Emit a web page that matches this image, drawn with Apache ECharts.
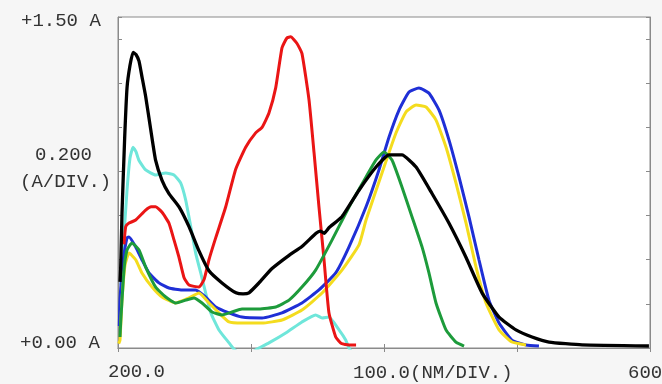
<!DOCTYPE html>
<html><head><meta charset="utf-8">
<script src="https://cdn.jsdelivr.net/npm/echarts@6/dist/echarts.min.js"></script>
<style>html,body{margin:0;padding:0;background:#f6f6f6;}#c{width:662px;height:384px;}</style>
</head><body><div id="c"></div>
<script>
// wavelength (nm), absorbance (A)
const black = [[201.5,0.30],[202.0,0.36],[203.0,0.61],[205.0,0.95],[206.8,1.18],[209,1.28],[211.3,1.34],[213.5,1.33],[215.8,1.30],[218,1.23],[220.8,1.14],[224.6,0.99],[228.3,0.85],[233.1,0.76],[238.3,0.70],[245.9,0.64],[253.4,0.55],[260.9,0.44],[268.4,0.35],[278.2,0.295],[288.7,0.25],[294,0.245],[298.5,0.25],[306.0,0.295],[315.8,0.36],[328.6,0.42],[338.3,0.46],[348.9,0.52],[352,0.53],[355,0.52],[358.6,0.545],[368.4,0.595],[381.2,0.715],[394.0,0.82],[403.8,0.875],[413.5,0.875],[424.1,0.82],[436.1,0.70],[448.9,0.565],[461.7,0.41],[473.7,0.25],[486.5,0.14],[499.2,0.082],[511.3,0.05],[524.1,0.027],[548.9,0.014],[599.2,0.009]];
const red = [[204.5,0.47],[205.8,0.55],[208.3,0.566],[213.3,0.58],[220.8,0.625],[225,0.64],[228.3,0.64],[233.1,0.615],[238.3,0.566],[242.1,0.49],[245.9,0.41],[249.6,0.32],[253.4,0.285],[260.9,0.276],[264.7,0.31],[268.4,0.40],[273.5,0.50],[281.0,0.64],[288.5,0.81],[296.0,0.91],[303.5,0.975],[308.3,1.00],[313.5,1.065],[318.6,1.18],[323.3,1.36],[327,1.405],[329.8,1.41],[334.6,1.38],[338.3,1.335],[343.6,1.125],[347.4,0.885],[351.1,0.64],[354.9,0.40],[358.6,0.16],[363.7,0.05],[368,0.02],[373.7,0.014],[379,0.014]];
const cyan = [[202.3,0.285],[203.8,0.445],[206.8,0.716],[209.0,0.86],[211.3,0.91],[213.5,0.89],[215.8,0.85],[220.8,0.807],[228.3,0.784],[235.9,0.793],[242.1,0.784],[247.1,0.748],[250.9,0.67],[254.7,0.55],[258.4,0.43],[262.2,0.34],[265.9,0.25],[269.7,0.16],[275.9,0.082],[283.5,0.023],[287.2,-0.005],[294.7,-0.04],[304.5,-0.005],[313.5,0.023],[326.1,0.068],[338.3,0.118],[348.6,0.15],[353.4,0.136],[358.6,0.14],[366.2,0.082],[371.2,0.036],[373.7,0.0],[376,-0.02]];
const blue = [[201.0,0.10],[201.5,0.22],[203.8,0.39],[206.8,0.50],[208.3,0.503],[213.3,0.458],[218.0,0.40],[223.3,0.34],[230.8,0.295],[238.3,0.272],[248.1,0.263],[258.4,0.263],[265.9,0.231],[273.5,0.186],[283.5,0.159],[293.2,0.14],[308.3,0.136],[323.3,0.159],[338.3,0.204],[351.1,0.263],[363.7,0.34],[373.7,0.458],[386.5,0.64],[396.2,0.807],[403.8,0.956],[411.3,1.078],[418.8,1.16],[426.3,1.178],[433.8,1.155],[441.4,1.078],[448.9,0.942],[456.4,0.775],[463.9,0.594],[471.4,0.40],[478.9,0.217],[486.5,0.113],[496.2,0.036],[506.8,0.014],[516.5,0.009]];
const yellow = [[200.5,0.02],[201.5,0.036],[203.0,0.217],[205.3,0.376],[208.3,0.43],[213.3,0.40],[218.0,0.34],[225.6,0.276],[233.1,0.231],[243.4,0.204],[253.4,0.227],[260.9,0.249],[268.4,0.204],[275.9,0.159],[283.5,0.118],[293.2,0.113],[308.3,0.113],[323.3,0.127],[338.3,0.172],[353.4,0.249],[368.4,0.353],[381.2,0.467],[386.5,0.58],[398.5,0.793],[409.0,0.974],[416.5,1.069],[424.1,1.101],[431.6,1.092],[439.1,1.033],[446.6,0.911],[454.1,0.748],[461.7,0.566],[469.2,0.367],[476.7,0.204],[486.5,0.082],[496.2,0.027],[506.8,0.014]];
const green = [[201.5,0.05],[202.0,0.113],[204.5,0.353],[206.8,0.444],[210.5,0.476],[215.8,0.444],[220.8,0.367],[228.3,0.276],[235.9,0.231],[243.4,0.204],[250.9,0.217],[257.1,0.227],[263.2,0.204],[270.7,0.163],[278.2,0.15],[285.7,0.163],[293.2,0.177],[306.0,0.177],[318.6,0.186],[328.6,0.217],[338.3,0.276],[348.6,0.353],[360.9,0.489],[373.7,0.639],[386.5,0.775],[394.0,0.852],[400.0,0.888],[406.0,0.852],[413.5,0.73],[421.1,0.594],[428.6,0.458],[433.8,0.34],[439.1,0.204],[446.6,0.082],[454.1,0.027],[460.2,0.009]];
const yLabels = ['+1.50 A', '0.200', '(A/DIV.)', '+0.00 A'];
const xLabels = ['200.0', '100.0(NM/DIV.)', '600'];

const chart = echarts.init(document.getElementById('c'));
const font = '"Liberation Mono", "DejaVu Sans Mono", monospace';
const txt = (text, x, y) => ({type:'text', x:x, y:y, style:{text:text, font:'19px ' + font, fill:'#333333', textAlign:'left', textVerticalAlign:'middle'}});
const mk = (name, data, color, w) => ({type:'line', name:name, data:data, showSymbol:false, smooth:0.15, lineStyle:{color:color, width:w||3}, itemStyle:{color:color}, z:2, animation:false});
const axCommon = {type:'value', axisLine:{show:true, lineStyle:{color:'#8a8a8a', width:1}}, axisTick:{show:true, inside:true, length:4, lineStyle:{color:'#8a8a8a'}}, axisLabel:{show:false}, splitLine:{show:false}};
chart.setOption({
  animation:false,
  backgroundColor:'#f6f6f6',
  grid:{left:118, right:12, top:17, bottom:36, show:true, backgroundColor:'#ffffff', borderColor:'#8a8a8a', borderWidth:1},
  xAxis:[Object.assign({}, axCommon, {min:200, max:600, interval:100, position:'bottom'}), Object.assign({}, axCommon, {min:200, max:600, interval:100, position:'top'})],
  yAxis:[Object.assign({}, axCommon, {min:0, max:1.5, interval:0.2, position:'left'}), Object.assign({}, axCommon, {min:0, max:1.5, interval:0.2, position:'right'})],
  series:[mk('cyan', cyan, '#6fe6da'), mk('blue', blue, '#1f2fd6'), mk('yellow', yellow, '#f4dc1e'), mk('red', red, '#ea1515'), mk('green', green, '#1d9b3b'), mk('black', black, '#000000', 3.3)],
  graphic:[txt(yLabels[0], 21, 21), txt(yLabels[1], 35, 155), txt(yLabels[2], 20, 182), txt(yLabels[3], 20, 343), txt(xLabels[0], 108, 372), txt(xLabels[1], 353, 373), txt(xLabels[2], 628, 373)]
});
</script></body></html>
